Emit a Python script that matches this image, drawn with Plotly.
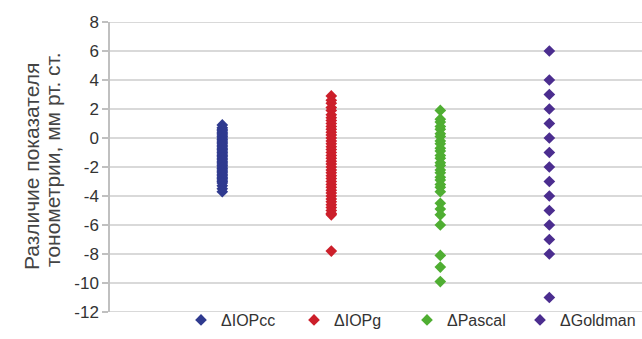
import plotly.graph_objects as go

series_names = ["ΔIOPcc", "ΔIOPg", "ΔPascal", "ΔGoldman"]
series_colors = ["#2f3a8f", "#cc1f2a", "#4fae32", "#4b2d8f"]

iopcc = [0.9, 0.7, 0.6, 0.5, 0.4, 0.3, 0.2, 0.1, 0.0, -0.1, -0.2, -0.3, -0.4,
         -0.5, -0.6, -0.7, -0.8, -0.9, -1.0, -1.1, -1.2, -1.3, -1.4, -1.5,
         -1.6, -1.7, -1.8, -1.9, -2.0, -2.1, -2.2, -2.3, -2.4, -2.5, -2.6,
         -2.7, -2.8, -2.9, -3.0, -3.1, -3.3, -3.5, -3.7]
iopg = [2.9, 2.6, 2.4, 2.1, 1.9, 1.6, 1.4, 1.2, 1.0, 0.8, 0.6, 0.4, 0.2, 0.0,
        -0.2, -0.4, -0.6, -0.8, -1.0, -1.2, -1.4, -1.6, -1.8, -2.0, -2.2,
        -2.4, -2.6, -2.8, -3.0, -3.2, -3.4, -3.6, -3.8, -4.0, -4.2, -4.4,
        -4.6, -4.8, -5.0, -5.2, -5.3, -7.8]
pascal = [1.9, 1.3, 1.1, 0.8, 0.6, 0.3, 0.1, -0.2, -0.4, -0.7, -0.9, -1.2,
          -1.4, -1.7, -1.9, -2.2, -2.4, -2.7, -2.9, -3.2, -3.4, -3.7, -4.5,
          -4.9, -5.3, -6.0, -8.1, -8.9, -9.9]
goldman = [6, 4, 3, 2, 1, 0, -1, -2, -3, -4, -5, -6, -7, -8, -11]

all_series = [iopcc, iopg, pascal, goldman]
positions = [1, 2, 3, 4]
legend_widths = [68, 68, 68, 80]

y_ticks = [8, 6, 4, 2, 0, -2, -4, -6, -8, -10, -12]
y_title_lines = ["Различие показателя", "тонометрии, мм рт. ст."]

FONT = "Liberation Sans, Arial, sans-serif"
W, H = 642, 339
PX0, PX1, PY0, PY1 = 110, 642, 22, 312   # plot area in page pixels
L, T, R, B = PX0, PY0, W - PX1, H - PY1
PW, PH = PX1 - PX0, PY1 - PY0
GRID = "#cccccc"
X_RANGE = [-0.03, 4.85]

fig = go.Figure()

# horizontal gridlines at the y tick values, drawn first so they sit under the markers
gx, gy = [], []
for v in y_ticks:
    gx += [X_RANGE[0], X_RANGE[1], None]
    gy += [v, v, None]
fig.add_trace(go.Scatter(x=gx, y=gy, mode="lines", showlegend=False,
                         hoverinfo="skip", cliponaxis=False,
                         line=dict(color=GRID, width=1.5)))

for name, vals, col, pos, lw in zip(series_names, all_series, series_colors,
                                    positions, legend_widths):
    fig.add_trace(go.Scatter(
        x=[pos] * len(vals), y=vals, mode="markers", name=name,
        legendwidth=lw,
        marker=dict(symbol="diamond", size=9, color=col, line=dict(width=0)),
    ))

# y-axis title as two rotated text lines (tight line spacing as in the reference)
for txt, px, py in zip(y_title_lines, [31, 52], [167, 160]):
    fig.add_annotation(text=txt, textangle=-90, showarrow=False,
                       xref="paper", yref="paper",
                       x=(px - PX0) / PW, y=(PY1 - py) / PH,
                       xanchor="center", yanchor="middle",
                       font=dict(family=FONT, size=21, color="#444"))

fig.update_layout(
    template="none",
    width=W, height=H,
    margin=dict(l=L, r=R, t=T, b=B, autoexpand=False),
    paper_bgcolor="white", plot_bgcolor="white",
    font=dict(family=FONT, color="#333"),
    showlegend=True,
    legend=dict(orientation="h", xref="container", yref="container",
                x=181 / W, y=2 / H, xanchor="left", yanchor="bottom",
                entrywidthmode="pixels",
                bgcolor="rgba(0,0,0,0)", borderwidth=0,
                font=dict(family=FONT, size=16, color="#333")),
    xaxis=dict(range=X_RANGE, showgrid=False, zeroline=False,
               showticklabels=False, showline=False, ticks=""),
    yaxis=dict(range=[-12, 8], tickmode="array", tickvals=y_ticks,
               ticktext=[str(v) for v in y_ticks],
               showgrid=False, zeroline=False,
               showline=True, linecolor="#c0c0c0", linewidth=1.5,
               ticks="outside", ticklen=6, tickcolor="#c0c0c0", tickwidth=1.5,
               tickfont=dict(family=FONT, size=17, color="#333")),
)

fig.write_html(
    "out.html",
    config={"displayModeBar": False},
    post_script="document.body.style.margin='0';document.body.style.overflow='hidden';",
)
